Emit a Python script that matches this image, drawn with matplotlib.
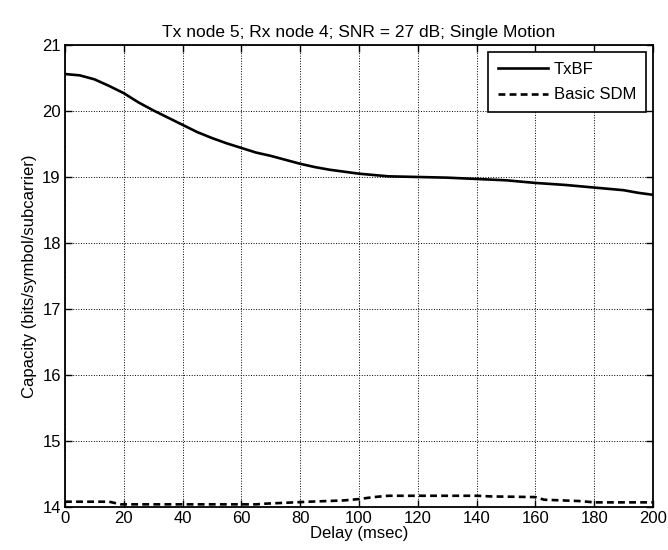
import numpy as np
import matplotlib.pyplot as plt

delay = [0, 5, 10, 15, 20, 25, 30, 35, 40, 45, 50, 55, 60, 65, 70, 75, 80, 85, 90, 95,
         100, 110, 120, 130, 140, 150, 160, 170, 180, 190, 195, 200]
txbf = [20.56, 20.54, 20.48, 20.38, 20.27, 20.13, 20.01, 19.90, 19.79, 19.68, 19.59, 19.51, 19.44, 19.37, 19.32, 19.26, 19.20, 19.15, 19.11, 19.08,
        19.05, 19.01, 19.00, 18.99, 18.97, 18.95, 18.91, 18.88, 18.84, 18.80, 18.76, 18.73]

sdm_delay = [0, 15, 19, 65, 68, 78, 83, 95, 100, 105, 110, 140, 145, 160, 163, 175, 180, 200]
sdm = [14.08, 14.08, 14.04, 14.04, 14.05, 14.07, 14.08, 14.10, 14.12, 14.15, 14.17, 14.17, 14.16, 14.15, 14.11, 14.09, 14.07, 14.07]

plt.rcParams["font.family"] = ["Liberation Sans", "DejaVu Sans"]
plt.rcParams["font.size"] = 12

fig = plt.figure(figsize=(6.68, 5.5), dpi=100)
ax = fig.add_axes([0.0973, 0.0782, 0.8802, 0.84])
ax.plot(delay, txbf, "k-", linewidth=1.9, label="TxBF")
ax.plot(sdm_delay, sdm, "k--", linewidth=1.9, dashes=(2.6, 1.6), label="Basic SDM")

ax.set_xlim(0, 200)
ax.set_ylim(14, 21)
ax.set_xticks(np.arange(0, 201, 20))
ax.set_yticks(np.arange(14, 22, 1))
ax.tick_params(direction="in", length=5, width=1, labelsize=12, top=True, right=True, pad=3)
ax.grid(True, color="black", linestyle=":", linewidth=0.7)
for s in ax.spines.values():
    s.set_linewidth(1.3)

ax.set_title("Tx node 5; Rx node 4; SNR = 27 dB; Single Motion", fontsize=12.5, pad=6)
ax.set_xlabel("Delay (msec)", fontsize=12, labelpad=0)
ax.set_ylabel("Capacity (bits/symbol/subcarrier)", fontsize=12, labelpad=4)

leg = ax.legend(loc="upper right", fancybox=False, framealpha=1, edgecolor="black",
                fontsize=12, handlelength=3.0, handletextpad=0.35, borderaxespad=0.4,
                borderpad=0.6, labelspacing=0.65)
leg.get_frame().set_linewidth(1.2)

fig.savefig("out.png", dpi=100)
